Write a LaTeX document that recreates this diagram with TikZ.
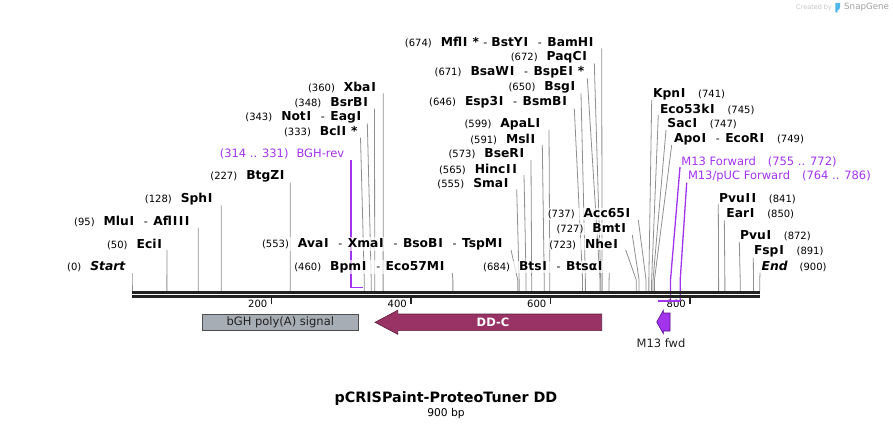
\documentclass[tikz,border=0pt]{standalone}
\usepackage{fontspec}
\setmainfont{DejaVu Sans}
\definecolor{linegray}{HTML}{8F8F8F}
\definecolor{primer}{HTML}{A234EE}
\definecolor{primerdark}{HTML}{5A0E8A}
\definecolor{ddc}{HTML}{993366}
\definecolor{ddcdark}{HTML}{5C1F3D}
\definecolor{bghgray}{HTML}{A7ADB5}
\definecolor{featborder}{HTML}{4D4D4D}
\definecolor{bbcol}{HTML}{222222}
\definecolor{wmgray}{HTML}{C4C4C4}
\definecolor{wmdark}{HTML}{A0A0A0}
\definecolor{snapblue}{HTML}{4FB6EA}
\newcommand{\bpn}[1]{{\fontsize{10}{12}\selectfont #1}}
\newcommand{\enz}[1]{{\fontsize{12.3}{14}\selectfont\bfseries #1}}
\newcommand{\Ic}{\kern0.75pt I\kern0.75pt}
\newcommand{\sepx}{\hspace{9pt}{\fontsize{11}{13}\selectfont -}\hspace{5.5pt}}
\newcommand{\sepy}{\hspace{4.5pt}{\fontsize{11}{13}\selectfont -}\hspace{4pt}}
\newcommand{\gapA}{\hspace{9pt}}
\newcommand{\gapB}{\hspace{12pt}}
\newcommand{\prim}[1]{{\fontsize{11.5}{13}\selectfont #1}}
\pgfdeclarelayer{bg}
\pgfsetlayers{bg,main}
\begin{document}
\begin{tikzpicture}[x=1pt,y=-1pt,
  lbl/.style={inner xsep=0.5pt, inner ysep=1pt, fill=white, fill opacity=0.7, text opacity=1},
  siteline/.style={draw=linegray, line width=0.8pt},
  primline/.style={draw=primer, line width=1.3pt},
  tickmark/.style={draw=bbcol, line width=1.4pt},
  ticklbl/.style={anchor=east, inner sep=0pt, font=\fontsize{10}{12}\selectfont},
  featlbl/.style={font=\fontsize{11.5}{13}\selectfont}]
\useasboundingbox (0,0) rectangle (893,430);

% backbone
\coordinate (bbL) at (132,292.2);
\coordinate (bbR) at (760,292.2);
\draw[bbcol, line width=2.6pt] (bbL) -- (bbR);
\draw[bbcol, line width=2.6pt] ([yshift=-4pt]bbL) -- ([yshift=-4pt]bbR);

% ticks
\foreach \t in {200,400,600,800}{
  \pgfmathsetmacro\tx{132+0.6975*\t}
  \coordinate (tk\t) at (\tx,297.5);
  \draw[tickmark] (tk\t) -- ++(0,6.5);
  \node[ticklbl] (tl\t) at (\tx-4,304) {\t};
}

% left-side labels (line leaves from their right end)
\foreach \n/\yy/\xe/\lx/\bp/\txt in {
  Lstart/266.7/126/132/0/{\bpn{(0)}\gapA\enz{\itshape Start}},
  Leci/244/163.3/167/50/{\bpn{(50)}\gapA\enz{Eci\Ic}},
  Lmlu/221.7/191/198.3/95/{\bpn{(95)}\gapA\enz{Mlu\Ic}\sepx\enz{Afl\Ic\Ic\Ic}},
  Lsph/199.3/214/221.3/128/{\bpn{(128)}\gapA\enz{Sph\Ic}},
  Lbtgz/176.7/286/290.3/227/{\bpn{(227)}\gapA\enz{BtgZ\Ic}},
  Lbcl/131.7/358.3/360.5/333/{\bpn{(333)}\gapA\enz{Bcl\Ic\ *}},
  Lnot/117.3/362.7/367.3/343/{\bpn{(343)}\gapA\enz{Not\Ic}\sepx\enz{Eag\Ic}},
  Lbsrb/102.7/369.3/374.5/348/{\bpn{(348)}\gapA\enz{BsrB\Ic}},
  Lxba/87.3/377.3/383.3/360/{\bpn{(360)}\gapA\enz{Xba\Ic}},
  Lbpm/267/446/452.3/460/{\bpn{(460)}\gapA\enz{Bpm\Ic}\sepx\enz{Eco57M\Ic}},
  Lava/244/504/511/553/{\bpn{(553)}\gapA\enz{Ava\Ic}\sepx\enz{Xma\Ic}\sepx\enz{BsoB\Ic}\sepx\enz{TspM\Ic}},
  Lsma/183.3/510/516.7/555/{\bpn{(555)}\gapA\enz{Sma\Ic}},
  Lhinc/169/518.3/524/565/{\bpn{(565)}\gapA\enz{Hinc\Ic\Ic}},
  Lbser/154/525.7/531/573/{\bpn{(573)}\gapA\enz{BseR\Ic}},
  Lmsl/139/536.7/542.3/591/{\bpn{(591)}\gapA\enz{Msl\Ic}},
  Lapal/124/541.7/549/599/{\bpn{(599)}\gapA\enz{ApaL\Ic}},
  Lesp/102.7/568.3/574.3/646/{\bpn{(646)}\gapA\enz{Esp3\Ic}\sepx\enz{BsmB\Ic}},
  Lbsg/87.3/576.7/581/650/{\bpn{(650)}\gapA\enz{Bsg\Ic}},
  Lbsaw/72.3/585/587.3/671/{\bpn{(671)}\gapA\enz{BsaW\Ic}\sepx\enz{BspE\Ic\ *}},
  Lpaq/57.3/588.3/594.3/672/{\bpn{(672)}\gapA\enz{PaqC\Ic}},
  Lmfl/42.3/595/601.7/674/{\bpn{(674)}\gapA\enz{Mfl\Ic\ *}\sepy\enz{BstY\Ic}\sepx\enz{BamH\Ic}},
  Lbts/267/604/609.3/684/{\bpn{(684)}\gapA\enz{Bts\Ic}\sepx\enz{Btsα\Ic}},
  Lnhe/244/619.3/625.7/723/{\bpn{(723)}\gapA\enz{Nhe\Ic}},
  Lbmt/229/627.3/632.3/727/{\bpn{(727)}\gapA\enz{Bmt\Ic}},
  Lacc/214/631.7/638.3/737/{\bpn{(737)}\gapA\enz{Acc65\Ic}}}{
  \node[lbl, anchor=east] (\n) at (\xe,\yy) {\txt};
  \pgfmathsetmacro\sx{132+0.6975*\bp}
  \coordinate (\n-top) at (\lx,\yy+6);
  \coordinate (\n-knee) at (\sx,280);
  \coordinate (\n-bb) at (\sx,290.8);
  \begin{pgfonlayer}{bg}
    \draw[siteline] (\n-top) -- (\n-knee) -- (\n-bb);
  \end{pgfonlayer}
}

% right-side labels (line leaves from their left end)
\foreach \n/\yy/\xs/\lx/\bp/\txt in {
  Rkpn/94/652.3/651.7/741/{\enz{Kpn\Ic}\gapB\bpn{(741)}},
  Reco53/109/659.3/658.3/745/{\enz{Eco53k\Ic}\gapB\bpn{(745)}},
  Rsac/124/666.7/666/747/{\enz{Sac\Ic}\gapB\bpn{(747)}},
  Rapo/139/673.3/671.7/749/{\enz{Apo\Ic}\sepx\enz{EcoR\Ic}\gapB\bpn{(749)}},
  Rpvu2/198.3/718.3/718.3/841/{\enz{Pvu\Ic\Ic}\gapB\bpn{(841)}},
  Rear/214/725.7/724.3/850/{\enz{Ear\Ic}\gapB\bpn{(850)}},
  Rpvu1/236/739.3/739.3/872/{\enz{Pvu\Ic}\gapB\bpn{(872)}},
  Rfsp/251.7/753.3/753.3/891/{\enz{Fsp\Ic}\gapB\bpn{(891)}},
  Rend/266.7/761/760/900/{\enz{\itshape End}\gapB\bpn{(900)}}}{
  \node[lbl, anchor=west] (\n) at (\xs,\yy) {\txt};
  \pgfmathsetmacro\sx{132+0.6975*\bp}
  \coordinate (\n-top) at (\lx,\yy+6);
  \coordinate (\n-knee) at (\sx,280);
  \coordinate (\n-bb) at (\sx,290.8);
  \begin{pgfonlayer}{bg}
    \draw[siteline] (\n-top) -- (\n-knee) -- (\n-bb);
  \end{pgfonlayer}
}

% primers
\node[lbl, anchor=east, text=primer] (bghrev) at (345,154) {\prim{(314 .. 331)}\hspace{8pt}\prim{BGH-rev}};
\coordinate (bghrev-top) at (350.7,160);
\coordinate (bghrev-a) at (350.7,287.4);
\coordinate (bghrev-b) at (362.5,287.4);
\begin{pgfonlayer}{bg}
\draw[primline, line width=1.6pt] (bghrev-top) -- (bghrev-a) -- (bghrev-b);
\end{pgfonlayer}

\node[lbl, anchor=west, text=primer] (m13f) at (680.7,161.7) {\prim{M13 Forward}\gapB\prim{(755 .. 772)}};
\node[lbl, anchor=west, text=primer] (m13puc) at (687.3,176.7) {\prim{M13/pUC Forward}\gapB\prim{(764 .. 786)}};
\coordinate (m13f-top) at (680,167);
\coordinate (m13f-knee) at (670.5,280);
\coordinate (m13f-end) at (670.5,300.5);
\coordinate (m13puc-top) at (686.7,182.7);
\coordinate (m13puc-knee) at (680.2,280);
\coordinate (m13puc-end) at (680.2,300.5);
\coordinate (prbarL) at (657.7,300.5);
\begin{pgfonlayer}{bg}
\draw[primline] (m13f-top) -- (m13f-knee) -- (m13f-end);
\draw[primline] (m13puc-top) -- (m13puc-knee) -- (m13puc-end);
\end{pgfonlayer}
\draw[primer, line width=2pt] (prbarL) -- (m13puc-end);

% features
\node[draw=featborder, line width=0.8pt, fill=bghgray, minimum width=156.7pt, minimum height=16.7pt, inner sep=0pt, featlbl, text=bbcol] (bgh) at (280.3,322.3) {bGH poly(A) signal};

\draw[fill=ddc, draw=ddcdark, line width=0.6pt] (375,322.3) -- (397.7,310.3) -- (397.7,314) -- (601.7,314) -- (601.7,330.6) -- (397.7,330.6) -- (397.7,334.3) -- cycle;
\node[font=\fontsize{11.5}{13}\selectfont\bfseries, text=white] (ddclbl) at (493,322.3) {DD-C};

\draw[fill=primer, draw=primerdark, line width=0.6pt] (656.7,322) -- (663.3,310.3) -- (663.3,313) -- (670,313) -- (670,331) -- (663.3,331) -- (663.3,333.7) -- cycle;
\node[featlbl, text=bbcol] (m13fwd) at (661,343.3) {M13 fwd};

% title
\node[font=\fontsize{14.3}{16}\selectfont\bfseries] (title) at (446,399) {pCRISPaint-ProteoTuner DD};
\node[font=\fontsize{10.7}{12}\selectfont] (len) at (446,413.5) {900 bp};

% watermark
\node[anchor=west, inner sep=0pt, text=wmgray, font=\fontsize{6.5}{8}\selectfont] (wm1) at (796,7.5) {Created by};
\fill[snapblue] (835.3,3) -- (840,3) -- (840,7.5) .. controls (840,9.5) and (838.5,10) .. (837.5,10) -- (837.5,12.5) -- (835.3,12.5) -- cycle;
\node[anchor=west, inner sep=0pt, text=wmdark, font=\fontsize{8.7}{10}\selectfont] (wm2) at (844,7.5) {SnapGene};
\end{tikzpicture}
\end{document}
